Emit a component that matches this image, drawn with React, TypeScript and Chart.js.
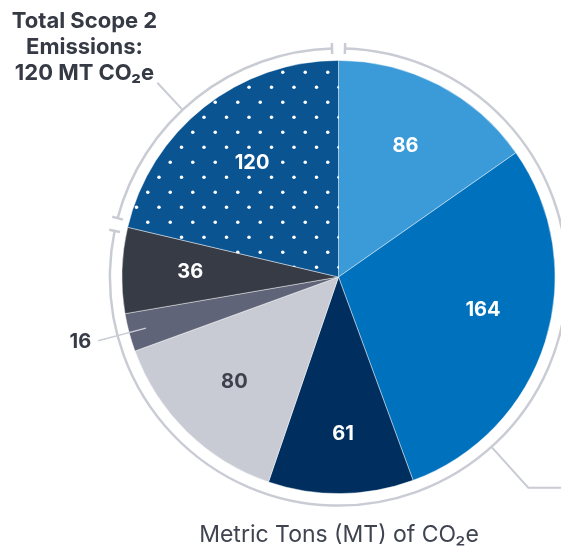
import React, { useEffect, useRef } from "react";
import { Chart, registerables } from "chart.js";

Chart.register(...registerables);

// ---- data ----
const categories = [
  "Segment 1",
  "Segment 2",
  "Segment 3",
  "Segment 4",
  "Segment 5",
  "Segment 6",
  "Scope 2",
];
const values = [86, 164, 61, 80, 16, 36, 120];
const valueLabels = ["86", "164", "61", "80", "16", "36", "120"];
const sliceColors = [
  "#3b9bd9",
  "#0071bd",
  "#002f5f",
  "#c8cbd4",
  "#5f6478",
  "#373b46",
  "#0b5492",
];
const labelColors = ["#ffffff", "#ffffff", "#ffffff", "#3c414c", "#363b47", "#ffffff", "#ffffff"];
const outsideLabelIndex = [4];
const patternedIndex = 6;
const scope2Lines = ["Total Scope 2", "Emissions:", "120 MT CO\u2082e"];
const axisTitle = "Metric Tons (MT) of CO\u2082e";

const RING = "#c9ccd4";
// fine label nudges (px), style only
const LABEL_NUDGE: [number, number][] = [
  [-1, -1],
  [4, -12],
  [3, 9],
  [-1, -1],
  [0, 0],
  [-1, -1],
  [5, 0],
];

function makeDotPattern(bg: string): CanvasPattern | string {
  const W = 45;
  const H = 30;
  const c = document.createElement("canvas");
  c.width = W;
  c.height = H;
  const g = c.getContext("2d");
  if (!g) return bg;
  g.fillStyle = bg;
  g.fillRect(0, 0, W, H);
  g.fillStyle = "#ffffff";
  const dots = [
    [1.5, 27.3],
    [24, 27.3],
    [12.75, 12.3],
    [35.25, 12.3],
  ];
  for (const [x, y] of dots) {
    for (let dx = -1; dx <= 1; dx++) {
      for (let dy = -1; dy <= 1; dy++) {
        g.beginPath();
        g.arc(x + dx * W, y + dy * H, 1.75, 0, Math.PI * 2);
        g.fill();
      }
    }
  }
  const p = g.createPattern(c, "repeat");
  return p || bg;
}

const overlayPlugin = {
  id: "overlay",
  afterDatasetsDraw(chart: any) {
    const ctx: CanvasRenderingContext2D = chart.ctx;
    const meta = chart.getDatasetMeta(0);
    const arcs = meta.data;
    if (!arcs.length) return;
    const p0 = arcs[0].getProps(["x", "y", "outerRadius"], true);
    const cx = p0.x;
    const cy = p0.y;
    const R = p0.outerRadius;

    ctx.save();
    // slice labels
    ctx.textAlign = "center";
    ctx.textBaseline = "middle";
    ctx.font = "bold 20px Inter";
    arcs.forEach((arc: any, i: number) => {
      const p = arc.getProps(["startAngle", "endAngle"], true);
      const mid = (p.startAngle + p.endAngle) / 2;
      if (outsideLabelIndex.includes(i)) {
        const r1 = R * 0.92;
        const r2 = R * 1.148;
        const x1 = cx + Math.cos(mid) * r1;
        const y1 = cy + Math.sin(mid) * r1;
        const x2 = cx + Math.cos(mid) * r2;
        const y2 = cy + Math.sin(mid) * r2;
        ctx.strokeStyle = RING;
        ctx.lineWidth = 1.5;
        ctx.beginPath();
        ctx.moveTo(x1, y1);
        ctx.lineTo(x2, y2);
        ctx.stroke();
        ctx.textAlign = "right";
        ctx.fillStyle = labelColors[i];
        ctx.fillText(valueLabels[i], x2 - 7, y2 + 1.5);
        ctx.textAlign = "center";
        return;
      }
      const r = R * 0.68;
      const x = cx + Math.cos(mid) * r + LABEL_NUDGE[i][0];
      const y = cy + Math.sin(mid) * r + LABEL_NUDGE[i][1];
      if (i === patternedIndex) {
        const w = ctx.measureText(valueLabels[i]).width;
        ctx.fillStyle = sliceColors[i];
        ctx.fillRect(x - w / 2 - 6, y - 12, w + 12, 24);
      }
      ctx.fillStyle = labelColors[i];
      ctx.fillText(valueLabels[i], x, y + 1);
    });

    // bracket rings
    const rr = R + 12;
    const gap = 6.5 / rr;
    const brackets = [
      {
        start: arcs[0].getProps(["startAngle"], true).startAngle,
        end: arcs[patternedIndex - 1].getProps(["endAngle"], true).endAngle,
        leaderDeg: 138,
        leaderLen: 55,
        tail: true,
      },
      {
        start: arcs[patternedIndex].getProps(["startAngle"], true).startAngle,
        end: arcs[patternedIndex].getProps(["endAngle"], true).endAngle,
        leaderDeg: 317,
        leaderLen: 37,
        tail: false,
      },
    ];
    ctx.strokeStyle = RING;
    ctx.lineWidth = 2.5;
    ctx.lineCap = "butt";
    for (const b of brackets) {
      const a0 = b.start + gap;
      const a1 = b.end - gap;
      ctx.beginPath();
      ctx.arc(cx, cy, rr, a0, a1);
      ctx.stroke();
      for (const a of [a0, a1]) {
        ctx.beginPath();
        ctx.moveTo(cx + Math.cos(a) * (rr - 5.5), cy + Math.sin(a) * (rr - 5.5));
        ctx.lineTo(cx + Math.cos(a) * (rr + 5.5), cy + Math.sin(a) * (rr + 5.5));
        ctx.stroke();
      }
      const la = ((b.leaderDeg - 90) * Math.PI) / 180;
      const ex = cx + Math.cos(la) * (rr + b.leaderLen);
      const ey = cy + Math.sin(la) * (rr + b.leaderLen);
      ctx.lineWidth = 2;
      ctx.beginPath();
      ctx.moveTo(cx + Math.cos(la) * rr, cy + Math.sin(la) * rr);
      ctx.lineTo(ex, ey);
      if (b.tail) ctx.lineTo(chart.width + 10, ey);
      ctx.stroke();
      ctx.lineWidth = 2.5;
    }

    // scope 2 callout text
    ctx.fillStyle = "#353a45";
    ctx.font = "bold 22px Inter";
    ctx.textAlign = "center";
    ctx.textBaseline = "alphabetic";
    const baselines = [27.7, 53.5, 79.5];
    scope2Lines.forEach((t, i) => ctx.fillText(t, 84.5, baselines[i]));

    // axis title
    ctx.fillStyle = "#3f4450";
    ctx.font = "23px Inter";
    ctx.fillText(axisTitle, 339, 541.5);
    ctx.restore();
  },
};

export default function App() {
  const ref = useRef<HTMLCanvasElement | null>(null);
  useEffect(() => {
    const canvas = ref.current;
    if (!canvas) return;
    const bg = sliceColors.map((c, i) => (i === patternedIndex ? makeDotPattern(c) : c));
    const chart = new Chart(canvas, {
      type: "pie",
      data: {
        labels: categories,
        datasets: [
          {
            data: values,
            backgroundColor: bg as any,
            borderColor: "rgba(255,255,255,0.55)",
            borderWidth: 0.8,
          },
        ],
      },
      options: {
        responsive: false,
        animation: false,
        layout: { padding: { left: 121.5, right: 5.5, top: 60, bottom: 56 } },
        plugins: {
          legend: { display: false },
          tooltip: { enabled: false },
          title: { display: false },
        },
      },
      plugins: [overlayPlugin],
    });
    return () => chart.destroy();
  }, []);
  return (
    <div style={{ position: "absolute", left: 0, top: 0, width: 561, height: 550, background: "#ffffff" }}>
      <canvas ref={ref} width={561} height={550} style={{ display: "block", width: 561, height: 550 }} />
    </div>
  );
}
